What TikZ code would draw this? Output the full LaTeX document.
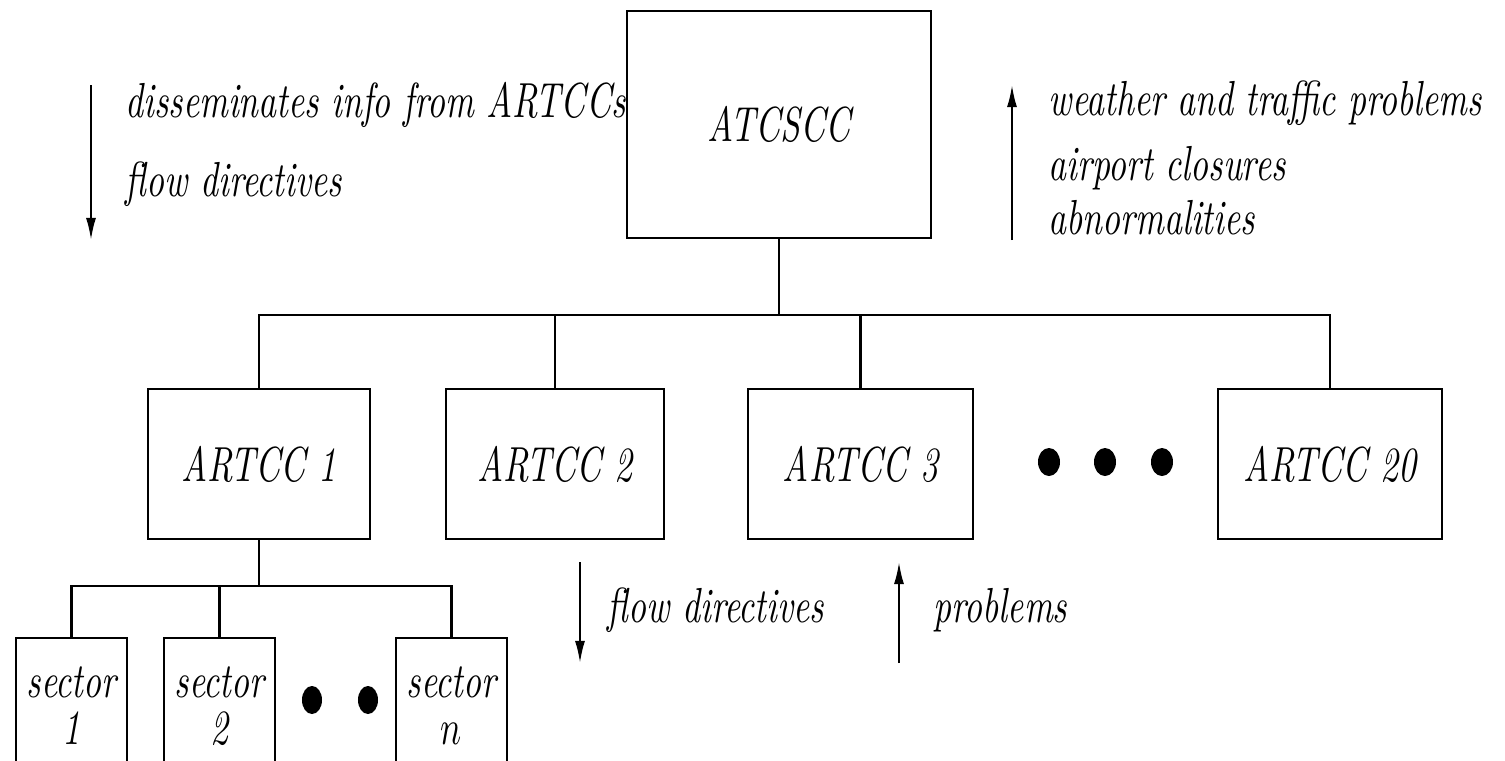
\documentclass[tikz,border=0pt]{standalone}
\usetikzlibrary{arrows.meta}
\newcommand{\vs}[1]{\scalebox{1}[1.4]{#1}}
\begin{document}
\begin{tikzpicture}[x=0.01cm,y=-0.01cm,
  box/.style={draw, line width=0.7pt, inner sep=0pt, outer sep=0pt, font=\itshape},
  conn/.style={line width=0.7pt},
  arr/.style={line width=0.6pt, -{Latex[length=2.2mm,width=1mm]}},
  txt/.style={inner sep=0pt, font=\itshape, anchor=base west}]
\useasboundingbox (0,0) rectangle (1505,760);
\clip (0,0) rectangle (1505,760);

% top box
\node[box, minimum width=3.04cm, minimum height=2.27cm] (atc) at (779,124.5) {\raisebox{-0.13cm}{\vs{ATCSCC}}};

% ARTCC boxes
\node[box, minimum width=2.22cm, minimum height=1.5cm] (a1) at (259,464) {\vs{ARTCC 1}};
\node[box, minimum width=2.18cm, minimum height=1.5cm] (a2) at (555,464) {\vs{ARTCC 2}};
\node[box, minimum width=2.25cm, minimum height=1.5cm] (a3) at (860.5,464) {\vs{ARTCC 3}};
\node[box, minimum width=2.24cm, minimum height=1.5cm] (a20) at (1330,464) {\vs{ARTCC 20}};

% sector boxes
\node[box, minimum width=1.11cm, minimum height=1.42cm] (s1) at (71.5,709) {\vs{\begin{tabular}{@{}c@{}}sector\\[-2.5pt]1\end{tabular}}};
\node[box, minimum width=1.11cm, minimum height=1.42cm] (s2) at (219.5,709) {\vs{\begin{tabular}{@{}c@{}}sector\\[-2.5pt]2\end{tabular}}};
\node[box, minimum width=1.11cm, minimum height=1.42cm] (sn) at (451.5,709) {\vs{\begin{tabular}{@{}c@{}}sector\\[-2.5pt]$n$\end{tabular}}};

% tree connectors
\coordinate (bus) at (777,315);
\coordinate (sbus) at (259,586);
\draw[conn] (atc.south) -- (atc.south |- bus);
\draw[conn] (a1.north) -- (a1.north |- bus) -- (a20.north |- bus) -- (a20.north);
\draw[conn] (a2.north) -- (a2.north |- bus);
\draw[conn] (a3.north) -- (a3.north |- bus);
\draw[conn] (a1.south) -- (sbus);
\draw[conn] (s1.north) -- (s1.north |- sbus) -- (sn.north |- sbus) -- (sn.north);
\draw[conn] (s2.north) -- (s2.north |- sbus);

% ellipsis dots
\fill (1049,462) ellipse [x radius=0.11cm, y radius=0.14cm];
\fill (1105,462) ellipse [x radius=0.11cm, y radius=0.14cm];
\fill (1162,462) ellipse [x radius=0.11cm, y radius=0.14cm];
\fill (312,700) ellipse [x radius=0.10cm, y radius=0.14cm];
\fill (368,700) ellipse [x radius=0.10cm, y radius=0.14cm];

% arrows
\coordinate (la) at (91,85);  \coordinate (lb) at (91,240);
\coordinate (ra) at (1012,240); \coordinate (rb) at (1012,85);
\coordinate (fa) at (580,562); \coordinate (fb) at (580,663);
\coordinate (pa) at (899,663); \coordinate (pb) at (899,562);
\draw[arr] (la) -- (lb);
\draw[arr] (ra) -- (rb);
\draw[arr] (fa) -- (fb);
\draw[arr] (pa) -- (pb);

% texts
\node[txt] (t1) at (125,117) {\vs{disseminates info from ARTCCs}};
\node[txt] (t2) at (125,196) {\vs{flow directives}};
\node[txt] (t3) at (1048,115) {\vs{weather and traffic problems}};
\node[txt] (t4) at (1048,180) {\vs{airport closures}};
\node[txt] (t5) at (1048,234) {\vs{abnormalities}};
\node[txt] (t6) at (607,622) {\vs{flow directives}};
\node[txt] (t7) at (933,622) {\vs{problems}};
\end{tikzpicture}
\end{document}
